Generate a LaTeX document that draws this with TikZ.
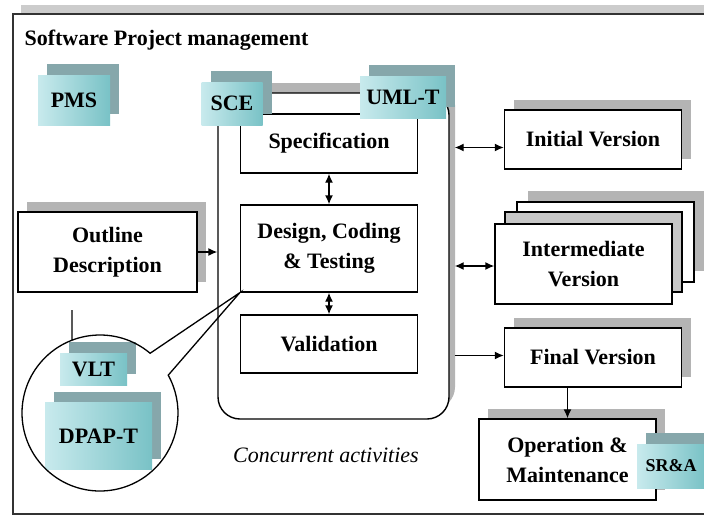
\documentclass[tikz,border=0pt]{standalone}
\usepackage{fontspec}
\setmainfont{Liberation Serif}
\usetikzlibrary{arrows.meta,positioning,shadows,calc}

\definecolor{tilelight}{HTML}{C8EAED}
\definecolor{tiledark}{HTML}{79C2C6}
\definecolor{tileback}{HTML}{86A7AB}
\definecolor{shade}{HTML}{B4B4B4}

\newcommand\boxfont{\fontsize{22}{30}\selectfont\bfseries}

\begin{document}
\begin{tikzpicture}[
  x=1pt, y=-1pt,
  stage/.style={draw, line width=1.4pt, fill=white, font=\boxfont,
    align=center, inner sep=0pt, minimum width=177pt},
  box/.style={stage, drop shadow={shadow xshift=9pt, shadow yshift=10pt,
    fill=shade, opacity=1}},
  layer/.style={draw, line width=1.4pt, minimum width=177pt,
    minimum height=80pt, inner sep=0pt},
  tile/.style={inner sep=0pt, font=\boxfont, left color=tilelight,
    right color=tiledark, drop shadow={shadow xshift=9pt,
    shadow yshift=11pt, fill=tileback, opacity=1}},
  link/.style={-{Latex[length=9pt,width=8pt]}, line width=1.4pt},
  both/.style={{Latex[length=9pt,width=8pt]}-{Latex[length=9pt,width=8pt]},
    line width=1.4pt},
]
  \useasboundingbox (0,0) rectangle (704,514);
  \clip (0,0) rectangle (704,514);

  % management frame
  \node[draw=black!80, line width=1.8pt, fill=white, anchor=north west,
    minimum width=720pt, minimum height=500pt, inner sep=0pt,
    drop shadow={shadow xshift=8pt, shadow yshift=9pt, fill=gray!40,
    opacity=1}] (panel) at (12,13) {};
  \node[anchor=west, font=\boxfont] (title) at (21,40)
    {Software Project management};
  \node[tile, minimum width=72pt, minimum height=50pt] (pms) at (74,100) {PMS};

  \node[box, minimum width=179pt, minimum height=80pt] (outline) at (107.5,252)
    {Outline\\Description};

  % concurrent activities
  \node[draw, line width=1.4pt, rounded corners=22pt, fill=white,
    minimum width=231pt, minimum height=326pt,
    drop shadow={shadow xshift=6pt, shadow yshift=10pt, fill=shade,
    opacity=1}] (conc) at (333.5,256) {};
  \node[stage, minimum height=59pt] (spec) at (329,143.5) {Specification};
  \node[stage, minimum height=87pt] (dct) at (329,248.5)
    {Design, Coding\\\& Testing};
  \node[stage, minimum height=58pt] (valid) at (329,344) {Validation};
  \node[tile, minimum width=61pt, minimum height=43pt] (sce) at (232,103.5) {SCE};
  \node[tile, minimum width=86pt, minimum height=42pt] (umlt) at (403,97) {UML-T};
  \node[font=\fontsize{22}{30}\selectfont\itshape] (concl) at (326,455)
    {Concurrent activities};

  % tools bubble
  \node[tile, minimum width=67pt, minimum height=32pt] (vlt) at (93.5,369) {VLT};
  \node[tile, minimum width=107pt, minimum height=67pt] (dpapt) at (98.5,436)
    {DPAP-T};
  \node[circle, minimum size=156pt, inner sep=0pt, outer sep=0pt] (bubble)
    at (100,413) {};
  \draw[line width=1.3pt] (dct.south west) -- (bubble.50)
    arc[start angle=50, end angle=389, radius=78pt] -- cycle;
  \coordinate (tick) at (72,310);
  \draw[line width=1.4pt] (tick) -- (bubble.111);

  % versions
  \node[box, minimum height=59pt] (init) at (593,139.5) {Initial Version};
  \node[layer, draw=none, fill=shade] (intershade) at (616.5,231) {};
  \node[layer, fill=white] (inter3) at (605.5,242) {};
  \node[layer, fill=gray!45] (inter2) at (593.5,252) {};
  \node[stage, minimum height=80pt] (inter) at (583.5,264) {Intermediate\\Version};
  \node[box, minimum height=59pt] (final) at (593,357.5) {Final Version};
  \node[box, minimum height=81pt] (op) at (567.5,459.5)
    {Operation \&\\Maintenance};
  \node[tile, minimum width=68pt, minimum height=44pt] (sra) at (671,466)
    {\fontsize{18}{20}\selectfont SR\&A};

  \draw[link] (outline.east) -- (outline.east -| conc.west);
  \draw[both] (spec) -- (dct);
  \draw[both] (dct) -- (valid);
  \draw[both] ($(conc.east |- init.west)+(5,8)$) -- ([yshift=-8pt]init.west);
  \draw[both] ($(conc.east |- inter.west)+(5,2)$) -- ([yshift=-2pt]inter.west);
  \draw[link] ($(conc.east |- final.west)+(5,-2)$) -- ([yshift=2pt]final.west);
  \draw[link] (final.south -| op.north) -- (op.north);
\end{tikzpicture}
\end{document}
